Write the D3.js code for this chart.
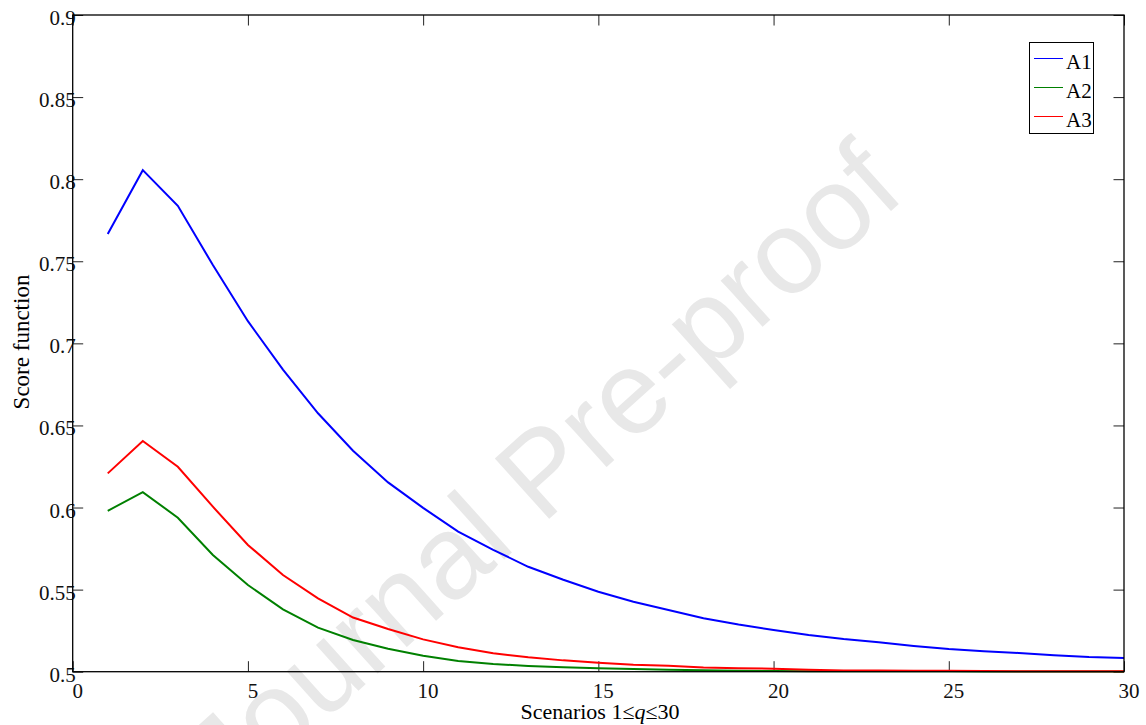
<!DOCTYPE html>
<html>
<head>
<meta charset="utf-8">
<script src="https://cdn.jsdelivr.net/npm/d3@7"></script>
<style>
  body { margin: 0; background: #fff; }
  text { font-family: "Liberation Serif", "Times New Roman", serif; }
</style>
</head>
<body>
<div id="chart-area"></div>
<script>
/*
*    score function chart
*/

// Data
const scenarios = d3.range(1, 31);
const a1 = [0.7666, 0.8055, 0.7838, 0.7477, 0.7135, 0.6840, 0.6574, 0.6346, 0.6153, 0.5998,
            0.5853, 0.5742, 0.5639, 0.5560, 0.5487, 0.5426, 0.5376, 0.5325, 0.5287, 0.5254,
            0.5224, 0.5199, 0.5179, 0.5157, 0.5138, 0.5124, 0.5114, 0.5100, 0.5089, 0.5083];
const a2 = [0.5980, 0.6094, 0.5938, 0.5711, 0.5528, 0.5380, 0.5268, 0.5193, 0.5140, 0.5097,
            0.5065, 0.5047, 0.5035, 0.5027, 0.5021, 0.5016, 0.5012, 0.5009, 0.5006, 0.5004,
            0.5003, 0.5003, 0.5002, 0.5002, 0.5002, 0.5001, 0.5001, 0.5001, 0.5001, 0.5001];
const a3 = [0.6208, 0.6405, 0.6248, 0.6005, 0.5772, 0.5589, 0.5447, 0.5330, 0.5260, 0.5197,
            0.5149, 0.5112, 0.5088, 0.5069, 0.5055, 0.5043, 0.5036, 0.5026, 0.5021, 0.5018,
            0.5012, 0.5008, 0.5007, 0.5006, 0.5006, 0.5004, 0.5003, 0.5003, 0.5002, 0.5002];
const seriesNames = ["A1", "A2", "A3"];
const seriesColors = ["#0000ff", "#008000", "#ff0000"];
const xTicks = [0, 5, 10, 15, 20, 25, 30];
const yTicks = [0.5, 0.55, 0.6, 0.65, 0.7, 0.75, 0.8, 0.85, 0.9];

const width = 1146;
const height = 725;
const margin = {left: 72.7, right: 22, top: 15, bottom: 53.3};
const innerW = width - margin.left - margin.right;
const innerH = height - margin.top - margin.bottom;
const tickLen = 10.5;

const svg = d3.select("#chart-area")
    .append("svg")
    .attr("width", width)
    .attr("height", height);

svg.append("rect")
    .attr("width", "100%")
    .attr("height", "100%")
    .attr("fill", "white");

// Watermark
svg.append("text")
    .attr("transform", "translate(548,478) rotate(-42)")
    .attr("text-anchor", "middle")
    .attr("dominant-baseline", "middle")
    .style("font-family", "'Liberation Sans', Arial, sans-serif")
    .attr("font-size", "118px")
    .attr("fill", "#e8e8e8")
    .text("Journal Pre-proof");

const g = svg.append("g")
    .attr("transform", "translate(" + margin.left + "," + margin.top + ")");

// Scales
const x = d3.scaleLinear().domain([0, 30]).range([0, innerW]);
const y = d3.scaleLinear().domain([0.5, 0.9]).range([innerH, 0]);

// Axes (ticks inward, mirrored on top/right)
const bottomAxis = d3.axisBottom(x).tickValues(xTicks).tickSize(-tickLen).tickFormat("");
const topAxis = d3.axisTop(x).tickValues(xTicks).tickSize(-tickLen).tickFormat("");
const leftAxis = d3.axisLeft(y).tickValues(yTicks).tickSize(-tickLen).tickFormat("");
const rightAxis = d3.axisRight(y).tickValues(yTicks).tickSize(-tickLen).tickFormat("");

g.append("g").attr("transform", "translate(0," + innerH + ")").call(bottomAxis);
g.append("g").call(topAxis);
g.append("g").call(leftAxis);
g.append("g").attr("transform", "translate(" + innerW + ",0)").call(rightAxis);

g.selectAll(".domain").remove();
g.selectAll(".tick line").attr("stroke", "#222").attr("stroke-width", 1);

// Tick labels
g.selectAll(".x-label")
    .data(xTicks)
    .enter().append("text")
    .attr("x", d => x(d) + 5)
    .attr("y", innerH + 26.5)
    .attr("text-anchor", "middle")
    .attr("font-size", "21px")
    .attr("fill", "#111")
    .text(d => d);

g.selectAll(".y-label")
    .data(yTicks)
    .enter().append("text")
    .attr("x", 3)
    .attr("y", d => y(d) + 10)
    .attr("text-anchor", "end")
    .attr("font-size", "21px")
    .attr("fill", "#111")
    .text(d => d3.format("~g")(d));

// Lines
const line = d3.line()
    .x((d, i) => x(scenarios[i]))
    .y(d => y(d));

[a1, a2, a3].forEach((s, i) => {
    g.append("path")
        .datum(s)
        .attr("fill", "none")
        .attr("stroke", seriesColors[i])
        .attr("stroke-width", 2)
        .attr("d", line);
});

// Frame
g.append("rect")
    .attr("width", innerW)
    .attr("height", innerH)
    .attr("fill", "none")
    .attr("stroke", "black")
    .attr("stroke-width", 1.3);

// Axis labels
svg.append("text")
    .attr("x", 600)
    .attr("y", 719)
    .attr("text-anchor", "middle")
    .attr("font-size", "22px")
    .html("Scenarios 1≤<tspan font-style='italic'>q</tspan>≤30");

svg.append("text")
    .attr("transform", "translate(29,342) rotate(-90)")
    .attr("text-anchor", "middle")
    .attr("font-size", "23px")
    .text("Score function");

// Legend
const legend = svg.append("g");
legend.append("rect")
    .attr("x", 1029.5)
    .attr("y", 42.5)
    .attr("width", 64)
    .attr("height", 91)
    .attr("fill", "white")
    .attr("stroke", "black")
    .attr("stroke-width", 1);

seriesNames.forEach((name, i) => {
    const ly = 58.5 + i * 29;
    legend.append("line")
        .attr("x1", 1034)
        .attr("x2", 1063)
        .attr("y1", ly)
        .attr("y2", ly)
        .attr("stroke", seriesColors[i])
        .attr("stroke-width", 1);
    legend.append("text")
        .attr("x", 1066)
        .attr("y", ly + 10)
        .attr("font-size", "21px")
        .text(name);
});
</script>
</body>
</html>
